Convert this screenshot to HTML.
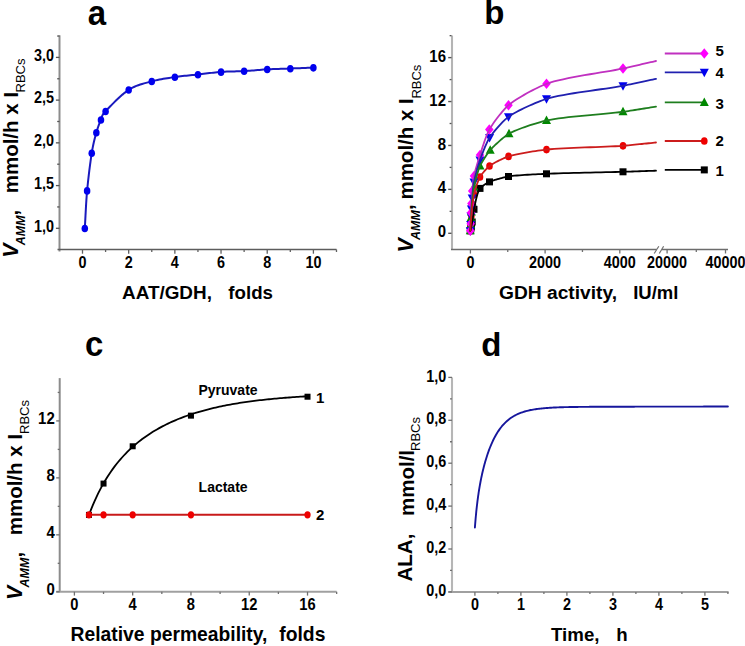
<!DOCTYPE html>
<html><head><meta charset="utf-8"><style>
html,body{margin:0;padding:0;background:#fff;width:745px;height:646px;overflow:hidden}
svg{display:block}
text{font-family:"Liberation Sans", sans-serif}
</style></head><body>
<svg width="745" height="646" viewBox="0 0 745 646">
<rect width="745" height="646" fill="#fff"/>
<line x1="59.5" y1="35.3" x2="59.5" y2="251.5" stroke="#8c8c8c" stroke-width="2.0"/>
<line x1="57.5" y1="249.5" x2="336.5" y2="249.5" stroke="#5c5c5c" stroke-width="1.5"/>
<line x1="82.5" y1="249.5" x2="82.5" y2="253.7" stroke="#606060" stroke-width="1.3"/>
<text transform="translate(82.5,268.2) scale(1,1.1)" font-size="14.4" font-weight="bold" font-style="normal" text-anchor="middle" fill="#000" >0</text>
<line x1="128.68" y1="249.5" x2="128.68" y2="253.7" stroke="#606060" stroke-width="1.3"/>
<text transform="translate(128.68,268.2) scale(1,1.1)" font-size="14.4" font-weight="bold" font-style="normal" text-anchor="middle" fill="#000" >2</text>
<line x1="174.86" y1="249.5" x2="174.86" y2="253.7" stroke="#606060" stroke-width="1.3"/>
<text transform="translate(174.86,268.2) scale(1,1.1)" font-size="14.4" font-weight="bold" font-style="normal" text-anchor="middle" fill="#000" >4</text>
<line x1="221.04" y1="249.5" x2="221.04" y2="253.7" stroke="#606060" stroke-width="1.3"/>
<text transform="translate(221.04,268.2) scale(1,1.1)" font-size="14.4" font-weight="bold" font-style="normal" text-anchor="middle" fill="#000" >6</text>
<line x1="267.22" y1="249.5" x2="267.22" y2="253.7" stroke="#606060" stroke-width="1.3"/>
<text transform="translate(267.22,268.2) scale(1,1.1)" font-size="14.4" font-weight="bold" font-style="normal" text-anchor="middle" fill="#000" >8</text>
<line x1="313.4" y1="249.5" x2="313.4" y2="253.7" stroke="#606060" stroke-width="1.3"/>
<text transform="translate(313.4,268.2) scale(1,1.1)" font-size="14.4" font-weight="bold" font-style="normal" text-anchor="middle" fill="#000" >10</text>
<line x1="105.59" y1="249.5" x2="105.59" y2="252" stroke="#606060" stroke-width="1.3"/>
<line x1="151.77" y1="249.5" x2="151.77" y2="252" stroke="#606060" stroke-width="1.3"/>
<line x1="197.95" y1="249.5" x2="197.95" y2="252" stroke="#606060" stroke-width="1.3"/>
<line x1="244.13" y1="249.5" x2="244.13" y2="252" stroke="#606060" stroke-width="1.3"/>
<line x1="290.31" y1="249.5" x2="290.31" y2="252" stroke="#606060" stroke-width="1.3"/>
<line x1="336.49" y1="249.5" x2="336.49" y2="252" stroke="#606060" stroke-width="1.3"/>
<line x1="55.9" y1="228.3" x2="59.5" y2="228.3" stroke="#555" stroke-width="1.3"/>
<text transform="translate(54,231.65) scale(1,1.1)" font-size="14.4" font-weight="bold" font-style="normal" text-anchor="end" fill="#000" >1,0</text>
<line x1="55.9" y1="185.58" x2="59.5" y2="185.58" stroke="#555" stroke-width="1.3"/>
<text transform="translate(54,188.93) scale(1,1.1)" font-size="14.4" font-weight="bold" font-style="normal" text-anchor="end" fill="#000" >1,5</text>
<line x1="55.9" y1="142.85" x2="59.5" y2="142.85" stroke="#555" stroke-width="1.3"/>
<text transform="translate(54,146.2) scale(1,1.1)" font-size="14.4" font-weight="bold" font-style="normal" text-anchor="end" fill="#000" >2,0</text>
<line x1="55.9" y1="100.12" x2="59.5" y2="100.12" stroke="#555" stroke-width="1.3"/>
<text transform="translate(54,103.47) scale(1,1.1)" font-size="14.4" font-weight="bold" font-style="normal" text-anchor="end" fill="#000" >2,5</text>
<line x1="55.9" y1="57.4" x2="59.5" y2="57.4" stroke="#555" stroke-width="1.3"/>
<text transform="translate(54,60.75) scale(1,1.1)" font-size="14.4" font-weight="bold" font-style="normal" text-anchor="end" fill="#000" >3,0</text>
<line x1="57.2" y1="206.94" x2="59.5" y2="206.94" stroke="#555" stroke-width="1.3"/>
<line x1="57.2" y1="164.21" x2="59.5" y2="164.21" stroke="#555" stroke-width="1.3"/>
<line x1="57.2" y1="121.49" x2="59.5" y2="121.49" stroke="#555" stroke-width="1.3"/>
<line x1="57.2" y1="78.76" x2="59.5" y2="78.76" stroke="#555" stroke-width="1.3"/>
<line x1="57.2" y1="36.04" x2="59.5" y2="36.04" stroke="#555" stroke-width="1.3"/>
<path d="M84.81,228.3 L84.99,225.17 L85.17,222.03 L85.33,218.9 L85.49,215.77 L85.65,212.63 L85.82,209.5 L85.99,206.37 L86.18,203.23 L86.38,200.1 L86.6,196.97 L86.84,193.84 L87.12,190.7 L87.42,187.51 L87.75,184.24 L88.11,180.9 L88.49,177.54 L88.88,174.17 L89.28,170.83 L89.69,167.56 L90.11,164.37 L90.53,161.3 L90.94,158.38 L91.34,155.64 L91.74,153.1 L92.12,150.77 L92.51,148.61 L92.89,146.6 L93.28,144.72 L93.66,142.96 L94.05,141.3 L94.43,139.73 L94.81,138.23 L95.2,136.78 L95.58,135.37 L95.97,133.98 L96.35,132.6 L96.74,131.25 L97.12,129.97 L97.51,128.75 L97.89,127.6 L98.28,126.49 L98.66,125.44 L99.05,124.43 L99.43,123.45 L99.82,122.5 L100.2,121.58 L100.59,120.67 L100.97,119.78 L101.3,118.96 L101.53,118.26 L101.69,117.64 L101.83,117.09 L101.96,116.56 L102.13,116.04 L102.36,115.49 L102.68,114.87 L103.14,114.17 L103.75,113.35 L104.56,112.38 L105.59,111.23 L106.87,109.86 L108.37,108.27 L110.06,106.49 L111.92,104.59 L113.9,102.59 L115.98,100.55 L118.12,98.51 L120.3,96.52 L122.47,94.61 L124.62,92.84 L126.7,91.24 L128.68,89.87 L130.6,88.7 L132.53,87.66 L134.45,86.73 L136.38,85.91 L138.3,85.19 L140.22,84.53 L142.15,83.93 L144.07,83.38 L146,82.86 L147.92,82.35 L149.85,81.85 L151.77,81.33 L153.69,80.81 L155.62,80.35 L157.54,79.92 L159.47,79.52 L161.39,79.16 L163.32,78.82 L165.24,78.5 L167.16,78.19 L169.09,77.9 L171.01,77.62 L172.94,77.34 L174.86,77.05 L176.78,76.78 L178.71,76.53 L180.63,76.29 L182.56,76.07 L184.48,75.86 L186.41,75.66 L188.33,75.47 L190.25,75.28 L192.18,75.09 L194.1,74.9 L196.03,74.7 L197.95,74.49 L199.87,74.27 L201.8,74.04 L203.72,73.81 L205.65,73.57 L207.57,73.34 L209.49,73.1 L211.42,72.87 L213.34,72.65 L215.27,72.45 L217.19,72.25 L219.12,72.08 L221.04,71.93 L222.96,71.8 L224.89,71.7 L226.81,71.61 L228.74,71.55 L230.66,71.49 L232.58,71.45 L234.51,71.4 L236.43,71.36 L238.36,71.31 L240.28,71.24 L242.21,71.17 L244.13,71.07 L246.05,70.96 L247.98,70.83 L249.9,70.68 L251.83,70.53 L253.75,70.38 L255.68,70.22 L257.6,70.06 L259.52,69.9 L261.45,69.75 L263.37,69.61 L265.3,69.48 L267.22,69.36 L269.14,69.26 L271.07,69.17 L272.99,69.09 L274.92,69.01 L276.84,68.95 L278.77,68.88 L280.69,68.82 L282.61,68.76 L284.54,68.7 L286.46,68.64 L288.39,68.58 L290.31,68.51 L292.23,68.44 L294.16,68.37 L296.08,68.29 L298.01,68.22 L299.93,68.15 L301.86,68.08 L303.78,68.01 L305.7,67.94 L307.63,67.87 L309.55,67.8 L311.48,67.73 L313.4,67.65" fill="none" stroke="#1a1abe" stroke-width="2" stroke-linejoin="round" stroke-linecap="round" />
<ellipse cx="84.81" cy="228.5" rx="3.27" ry="3.8" fill="#0000ee"/>
<ellipse cx="87.12" cy="190.9" rx="3.27" ry="3.8" fill="#0000ee"/>
<ellipse cx="91.74" cy="153.3" rx="3.27" ry="3.8" fill="#0000ee"/>
<ellipse cx="96.35" cy="132.8" rx="3.27" ry="3.8" fill="#0000ee"/>
<ellipse cx="100.97" cy="119.98" rx="3.27" ry="3.8" fill="#0000ee"/>
<ellipse cx="105.59" cy="111.43" rx="3.27" ry="3.8" fill="#0000ee"/>
<ellipse cx="128.68" cy="90.07" rx="3.27" ry="3.8" fill="#0000ee"/>
<ellipse cx="151.77" cy="81.53" rx="3.27" ry="3.8" fill="#0000ee"/>
<ellipse cx="174.86" cy="77.25" rx="3.27" ry="3.8" fill="#0000ee"/>
<ellipse cx="197.95" cy="74.69" rx="3.27" ry="3.8" fill="#0000ee"/>
<ellipse cx="221.04" cy="72.13" rx="3.27" ry="3.8" fill="#0000ee"/>
<ellipse cx="244.13" cy="71.27" rx="3.27" ry="3.8" fill="#0000ee"/>
<ellipse cx="267.22" cy="69.56" rx="3.27" ry="3.8" fill="#0000ee"/>
<ellipse cx="290.31" cy="68.71" rx="3.27" ry="3.8" fill="#0000ee"/>
<ellipse cx="313.4" cy="67.85" rx="3.27" ry="3.8" fill="#0000ee"/>
<text transform="translate(87.8,24.6) scale(1,1.06)" font-size="33" font-weight="bold" font-style="normal" text-anchor="start" fill="#000" >a</text>
<text x="122" y="299" font-size="18.9" font-weight="bold" font-style="normal" text-anchor="start" fill="#000" >AAT/GDH,</text>
<text x="228.3" y="299" font-size="18.7" font-weight="bold" font-style="normal" text-anchor="start" fill="#000" >folds</text>
<text transform="translate(17.6,257.8) rotate(-90)" font-size="21.5" font-weight="bold" font-style="normal" text-anchor="start" fill="#000"><tspan font-style="italic">V</tspan></text>
<text transform="translate(24.6,245.2) rotate(-90)" font-size="12.5" font-weight="bold" font-style="italic" text-anchor="start" fill="#000">AMM</text>
<text transform="translate(17.6,215.5) rotate(-90)" font-size="20.5" font-weight="bold" font-style="normal" text-anchor="start" fill="#000">,</text>
<text transform="translate(17.6,193.3) rotate(-90)" font-size="20.5" font-weight="bold" font-style="normal" text-anchor="start" fill="#000">mmol/h x I</text>
<text transform="translate(25.2,92.5) rotate(-90)" font-size="13" font-weight="normal" font-style="normal" text-anchor="start" fill="#000">RBCs</text>
<line x1="452" y1="35.5" x2="452" y2="249.5" stroke="#b4b4b4" stroke-width="2.1"/>
<line x1="451" y1="249.5" x2="656.6" y2="249.5" stroke="#6c6c6c" stroke-width="1.5"/>
<line x1="662" y1="249.5" x2="728" y2="249.5" stroke="#6c6c6c" stroke-width="1.5"/>
<line x1="654.2" y1="253.5" x2="658.8" y2="246.3" stroke="#707070" stroke-width="1.2"/>
<line x1="659.3" y1="253.5" x2="663.6" y2="246.3" stroke="#707070" stroke-width="1.2"/>
<line x1="470.4" y1="249.5" x2="470.4" y2="253.5" stroke="#707070" stroke-width="1.3"/>
<text transform="translate(470.4,268.2) scale(1,1.1)" font-size="14.4" font-weight="bold" font-style="normal" text-anchor="middle" fill="#000" >0</text>
<line x1="545.1" y1="249.5" x2="545.1" y2="253.5" stroke="#707070" stroke-width="1.3"/>
<text transform="translate(545.1,268.2) scale(1,1.1)" font-size="14.4" font-weight="bold" font-style="normal" text-anchor="middle" fill="#000" >2000</text>
<line x1="619.8" y1="249.5" x2="619.8" y2="253.5" stroke="#707070" stroke-width="1.3"/>
<text transform="translate(619.8,268.2) scale(1,1.1)" font-size="14.4" font-weight="bold" font-style="normal" text-anchor="middle" fill="#000" >4000</text>
<line x1="667.1" y1="249.5" x2="667.1" y2="253.5" stroke="#707070" stroke-width="1.3"/>
<text transform="translate(667.1,268.2) scale(1,1.1)" font-size="14.4" font-weight="bold" font-style="normal" text-anchor="middle" fill="#000" >20000</text>
<line x1="725.5" y1="249.5" x2="725.5" y2="253.5" stroke="#707070" stroke-width="1.3"/>
<text transform="translate(725.5,268.2) scale(1,1.1)" font-size="14.4" font-weight="bold" font-style="normal" text-anchor="middle" fill="#000" >40000</text>
<line x1="507.75" y1="249.5" x2="507.75" y2="252" stroke="#707070" stroke-width="1.3"/>
<line x1="582.45" y1="249.5" x2="582.45" y2="252" stroke="#707070" stroke-width="1.3"/>
<line x1="696.3" y1="249.5" x2="696.3" y2="252" stroke="#707070" stroke-width="1.3"/>
<line x1="448.2" y1="233.3" x2="451.5" y2="233.3" stroke="#555" stroke-width="1.4"/>
<text transform="translate(446,237.35) scale(1,1.1)" font-size="15.0" font-weight="bold" font-style="normal" text-anchor="end" fill="#000" >0</text>
<line x1="448.2" y1="189.38" x2="451.5" y2="189.38" stroke="#555" stroke-width="1.4"/>
<text transform="translate(446,193.43) scale(1,1.1)" font-size="15.0" font-weight="bold" font-style="normal" text-anchor="end" fill="#000" >4</text>
<line x1="448.2" y1="145.46" x2="451.5" y2="145.46" stroke="#555" stroke-width="1.4"/>
<text transform="translate(446,149.51) scale(1,1.1)" font-size="15.0" font-weight="bold" font-style="normal" text-anchor="end" fill="#000" >8</text>
<line x1="448.2" y1="101.54" x2="451.5" y2="101.54" stroke="#555" stroke-width="1.4"/>
<text transform="translate(446,105.59) scale(1,1.1)" font-size="15.0" font-weight="bold" font-style="normal" text-anchor="end" fill="#000" >12</text>
<line x1="448.2" y1="57.62" x2="451.5" y2="57.62" stroke="#555" stroke-width="1.4"/>
<text transform="translate(446,61.67) scale(1,1.1)" font-size="15.0" font-weight="bold" font-style="normal" text-anchor="end" fill="#000" >16</text>
<line x1="449.6" y1="211.34" x2="451.5" y2="211.34" stroke="#555" stroke-width="1.3"/>
<line x1="449.6" y1="167.42" x2="451.5" y2="167.42" stroke="#555" stroke-width="1.3"/>
<line x1="449.6" y1="123.5" x2="451.5" y2="123.5" stroke="#555" stroke-width="1.3"/>
<line x1="449.6" y1="79.58" x2="451.5" y2="79.58" stroke="#555" stroke-width="1.3"/>
<line x1="449.6" y1="35.66" x2="451.5" y2="35.66" stroke="#555" stroke-width="1.3"/>
<rect x="466.8" y="227.3" width="7" height="7" fill="#000000"/>
<rect x="467.2" y="225.8" width="7" height="7" fill="#000000"/>
<rect x="467.5" y="224.3" width="7" height="7" fill="#000000"/>
<rect x="467.9" y="222.7" width="7" height="7" fill="#000000"/>
<rect x="468.7" y="218.5" width="7" height="7" fill="#000000"/>
<rect x="470.5" y="205.8" width="7" height="7" fill="#000000"/>
<rect x="476.5" y="184.9" width="7" height="7" fill="#000000"/>
<rect x="486" y="178.4" width="7" height="7" fill="#000000"/>
<rect x="505" y="173" width="7" height="7" fill="#000000"/>
<rect x="543" y="170.3" width="7" height="7" fill="#000000"/>
<rect x="619.5" y="168.3" width="7" height="7" fill="#000000"/>
<ellipse cx="470.3" cy="230.8" rx="3.31" ry="3.85" fill="#ee0000"/>
<ellipse cx="470.7" cy="226" rx="3.31" ry="3.85" fill="#ee0000"/>
<ellipse cx="471" cy="221" rx="3.31" ry="3.85" fill="#ee0000"/>
<ellipse cx="471.4" cy="216" rx="3.31" ry="3.85" fill="#ee0000"/>
<ellipse cx="472.2" cy="207" rx="3.31" ry="3.85" fill="#ee0000"/>
<ellipse cx="474" cy="194.5" rx="3.31" ry="3.85" fill="#ee0000"/>
<ellipse cx="480" cy="177" rx="3.31" ry="3.85" fill="#ee0000"/>
<ellipse cx="489.5" cy="166" rx="3.31" ry="3.85" fill="#ee0000"/>
<ellipse cx="508.5" cy="156.4" rx="3.31" ry="3.85" fill="#ee0000"/>
<ellipse cx="546.5" cy="149.6" rx="3.31" ry="3.85" fill="#ee0000"/>
<ellipse cx="623" cy="145.8" rx="3.31" ry="3.85" fill="#ee0000"/>
<path d="M470.3,225.87 L474.8,234.37 L465.8,234.37Z" fill="#008800"/>
<path d="M470.7,220.07 L475.2,228.57 L466.2,228.57Z" fill="#008800"/>
<path d="M471,213.07 L475.5,221.57 L466.5,221.57Z" fill="#008800"/>
<path d="M471.4,207.07 L475.9,215.57 L466.9,215.57Z" fill="#008800"/>
<path d="M472.2,197.07 L476.7,205.57 L467.7,205.57Z" fill="#008800"/>
<path d="M474,182.07 L478.5,190.57 L469.5,190.57Z" fill="#008800"/>
<path d="M480,161.07 L484.5,169.57 L475.5,169.57Z" fill="#008800"/>
<path d="M490.2,145.17 L494.7,153.67 L485.7,153.67Z" fill="#008800"/>
<path d="M509,128.77 L513.5,137.27 L504.5,137.27Z" fill="#008800"/>
<path d="M546.5,115.57 L551,124.07 L542,124.07Z" fill="#008800"/>
<path d="M623,106.87 L627.5,115.37 L618.5,115.37Z" fill="#008800"/>
<path d="M470.3,235.73 L474.8,227.23 L465.8,227.23Z" fill="#0000ee"/>
<path d="M470.7,229.43 L475.2,220.93 L466.2,220.93Z" fill="#0000ee"/>
<path d="M471,220.93 L475.5,212.43 L466.5,212.43Z" fill="#0000ee"/>
<path d="M471.4,213.93 L475.9,205.43 L466.9,205.43Z" fill="#0000ee"/>
<path d="M472.2,202.93 L476.7,194.43 L467.7,194.43Z" fill="#0000ee"/>
<path d="M474,186.93 L478.5,178.43 L469.5,178.43Z" fill="#0000ee"/>
<path d="M480,164.93 L484.5,156.43 L475.5,156.43Z" fill="#0000ee"/>
<path d="M489.6,142.53 L494.1,134.03 L485.1,134.03Z" fill="#0000ee"/>
<path d="M508.5,121.73 L513,113.23 L504,113.23Z" fill="#0000ee"/>
<path d="M546.5,103.83 L551,95.33 L542,95.33Z" fill="#0000ee"/>
<path d="M623,90.73 L627.5,82.23 L618.5,82.23Z" fill="#0000ee"/>
<path d="M470.3,225.55 L474.55,230.8 L470.3,236.05 L466.05,230.8Z" fill="#ff00ff"/>
<path d="M470.7,218.55 L474.95,223.8 L470.7,229.05 L466.45,223.8Z" fill="#ff00ff"/>
<path d="M471,207.45 L475.25,212.7 L471,217.95 L466.75,212.7Z" fill="#ff00ff"/>
<path d="M471.4,198.35 L475.65,203.6 L471.4,208.85 L467.15,203.6Z" fill="#ff00ff"/>
<path d="M472.2,185.75 L476.45,191 L472.2,196.25 L467.95,191Z" fill="#ff00ff"/>
<path d="M474,170.65 L478.25,175.9 L474,181.15 L469.75,175.9Z" fill="#ff00ff"/>
<path d="M480,149.75 L484.25,155 L480,160.25 L475.75,155Z" fill="#ff00ff"/>
<path d="M489.3,124.35 L493.55,129.6 L489.3,134.85 L485.05,129.6Z" fill="#ff00ff"/>
<path d="M508.5,99.95 L512.75,105.2 L508.5,110.45 L504.25,105.2Z" fill="#ff00ff"/>
<path d="M546.5,78.55 L550.75,83.8 L546.5,89.05 L542.25,83.8Z" fill="#ff00ff"/>
<path d="M623,63.25 L627.25,68.5 L623,73.75 L618.75,68.5Z" fill="#ff00ff"/>
<path d="M470.3,230.8 L470.32,230.47 L470.34,230.1 L470.37,229.69 L470.39,229.25 L470.42,228.78 L470.45,228.3 L470.48,227.8 L470.51,227.3 L470.54,226.8 L470.57,226.3 L470.6,225.82 L470.62,225.35 L470.65,224.91 L470.67,224.5 L470.69,224.13 L470.7,223.8 L470.72,223.28 L470.74,222.69 L470.76,222.04 L470.78,221.34 L470.8,220.6 L470.82,219.83 L470.84,219.05 L470.86,218.25 L470.87,217.45 L470.89,216.67 L470.91,215.9 L470.93,215.16 L470.95,214.46 L470.97,213.81 L470.98,213.22 L471,212.7 L471.02,212.27 L471.03,211.79 L471.06,211.25 L471.08,210.68 L471.1,210.08 L471.13,209.45 L471.16,208.8 L471.19,208.15 L471.21,207.5 L471.24,206.85 L471.27,206.22 L471.3,205.62 L471.33,205.05 L471.35,204.51 L471.38,204.03 L471.4,203.6 L471.43,203.01 L471.47,202.33 L471.51,201.6 L471.55,200.8 L471.6,199.97 L471.65,199.09 L471.7,198.2 L471.76,197.3 L471.81,196.39 L471.87,195.5 L471.93,194.63 L471.98,193.79 L472.04,193 L472.1,192.26 L472.15,191.59 L472.2,191 L472.27,190.29 L472.34,189.48 L472.43,188.59 L472.52,187.64 L472.62,186.63 L472.73,185.59 L472.84,184.51 L472.96,183.43 L473.08,182.34 L473.21,181.27 L473.34,180.23 L473.47,179.23 L473.6,178.28 L473.73,177.4 L473.87,176.6 L474,175.9 L474.22,174.9 L474.48,173.77 L474.79,172.54 L475.14,171.21 L475.52,169.82 L475.92,168.37 L476.35,166.89 L476.79,165.39 L477.23,163.9 L477.67,162.42 L478.11,160.98 L478.54,159.6 L478.95,158.29 L479.33,157.08 L479.68,155.97 L480,155 L480.39,153.79 L480.84,152.41 L481.32,150.9 L481.85,149.27 L482.4,147.56 L482.99,145.78 L483.6,143.96 L484.23,142.12 L484.87,140.28 L485.52,138.48 L486.17,136.72 L486.82,135.05 L487.47,133.48 L488.1,132.03 L488.71,130.73 L489.3,129.6 L490.04,128.34 L490.91,126.93 L491.91,125.4 L493.02,123.78 L494.21,122.09 L495.48,120.34 L496.8,118.57 L498.16,116.8 L499.55,115.04 L500.94,113.32 L502.32,111.67 L503.68,110.11 L504.99,108.66 L506.24,107.34 L507.42,106.18 L508.5,105.2 L510.1,103.91 L511.96,102.52 L514.06,101.07 L516.36,99.56 L518.82,98.02 L521.4,96.45 L524.08,94.89 L526.82,93.34 L529.58,91.83 L532.32,90.38 L535.02,89 L537.62,87.71 L540.11,86.52 L542.44,85.46 L544.59,84.55 L546.5,83.8 L549.98,82.63 L553.96,81.48 L558.37,80.36 L563.15,79.27 L568.22,78.21 L573.51,77.18 L578.95,76.18 L584.47,75.2 L590,74.26 L595.47,73.34 L600.81,72.46 L605.94,71.6 L610.79,70.78 L615.3,69.99 L619.39,69.23 L623,68.5 L624.56,68.16 L626.32,67.78 L628.25,67.35 L630.33,66.88 L632.52,66.38 L634.8,65.86 L637.14,65.33 L639.51,64.79 L641.87,64.24 L644.21,63.71 L646.49,63.18 L648.68,62.68 L650.76,62.2 L652.69,61.76 L654.45,61.35 L656,61" fill="none" stroke="#c030c0" stroke-width="1.8" stroke-linejoin="round" stroke-linecap="round" />
<line x1="664.8" y1="53.5" x2="704" y2="53.5" stroke="#c030c0" stroke-width="1.9"/>
<path d="M704.3,48.25 L708.55,53.5 L704.3,58.75 L700.05,53.5Z" fill="#ff00ff"/>
<path d="M470.3,230.8 L470.32,230.5 L470.34,230.17 L470.37,229.8 L470.39,229.4 L470.42,228.98 L470.45,228.55 L470.48,228.1 L470.51,227.65 L470.54,227.2 L470.57,226.75 L470.59,226.32 L470.62,225.9 L470.64,225.5 L470.67,225.13 L470.68,224.8 L470.7,224.5 L470.72,224.1 L470.74,223.65 L470.76,223.15 L470.78,222.61 L470.79,222.05 L470.81,221.46 L470.83,220.86 L470.85,220.25 L470.87,219.64 L470.89,219.04 L470.91,218.45 L470.93,217.89 L470.95,217.35 L470.96,216.85 L470.98,216.4 L471,216 L471.02,215.67 L471.03,215.3 L471.06,214.89 L471.08,214.45 L471.1,213.98 L471.13,213.5 L471.16,213 L471.19,212.5 L471.22,212 L471.25,211.5 L471.28,211.02 L471.3,210.55 L471.33,210.11 L471.36,209.7 L471.38,209.33 L471.4,209 L471.43,208.48 L471.47,207.9 L471.52,207.25 L471.56,206.56 L471.61,205.83 L471.66,205.07 L471.72,204.29 L471.77,203.5 L471.83,202.71 L471.89,201.93 L471.94,201.17 L472,200.44 L472.05,199.75 L472.1,199.1 L472.15,198.52 L472.2,198 L472.27,197.24 L472.35,196.39 L472.43,195.45 L472.53,194.44 L472.63,193.37 L472.74,192.27 L472.85,191.13 L472.96,189.98 L473.09,188.83 L473.21,187.7 L473.34,186.59 L473.47,185.53 L473.6,184.53 L473.73,183.59 L473.87,182.75 L474,182 L474.21,180.95 L474.47,179.76 L474.78,178.46 L475.11,177.06 L475.48,175.59 L475.88,174.07 L476.29,172.5 L476.72,170.92 L477.16,169.35 L477.6,167.79 L478.03,166.28 L478.46,164.82 L478.88,163.45 L479.28,162.17 L479.65,161.02 L480,160 L480.38,158.92 L480.82,157.69 L481.32,156.35 L481.86,154.91 L482.44,153.39 L483.05,151.81 L483.69,150.2 L484.35,148.58 L485.02,146.96 L485.71,145.37 L486.39,143.83 L487.07,142.36 L487.73,140.98 L488.38,139.72 L489.01,138.58 L489.6,137.6 L490.34,136.5 L491.21,135.28 L492.21,133.97 L493.31,132.57 L494.49,131.12 L495.75,129.62 L497.06,128.11 L498.4,126.59 L499.77,125.1 L501.14,123.64 L502.49,122.24 L503.82,120.92 L505.1,119.69 L506.32,118.59 L507.46,117.62 L508.5,116.8 L510.12,115.67 L512.01,114.48 L514.13,113.24 L516.45,111.96 L518.92,110.66 L521.52,109.35 L524.21,108.05 L526.95,106.77 L529.71,105.52 L532.45,104.32 L535.13,103.18 L537.73,102.12 L540.2,101.15 L542.51,100.27 L544.62,99.52 L546.5,98.9 L550.01,97.89 L554.02,96.92 L558.45,95.96 L563.24,95.04 L568.32,94.14 L573.61,93.26 L579.04,92.41 L584.56,91.59 L590.08,90.79 L595.53,90.01 L600.86,89.25 L605.97,88.52 L610.82,87.81 L615.31,87.12 L619.4,86.45 L623,85.8 L624.56,85.5 L626.32,85.14 L628.26,84.74 L630.33,84.31 L632.53,83.85 L634.81,83.36 L637.15,82.87 L639.51,82.36 L641.88,81.85 L644.21,81.34 L646.49,80.85 L648.68,80.37 L650.76,79.93 L652.69,79.51 L654.45,79.13 L656,78.8" fill="none" stroke="#2020b0" stroke-width="1.8" stroke-linejoin="round" stroke-linecap="round" />
<line x1="664.8" y1="72.4" x2="704" y2="72.4" stroke="#2020b0" stroke-width="1.9"/>
<path d="M704.3,77.33 L708.8,68.83 L699.8,68.83Z" fill="#0000ee"/>
<path d="M470.3,230.8 L470.32,230.53 L470.34,230.22 L470.37,229.88 L470.39,229.51 L470.42,229.13 L470.45,228.73 L470.48,228.32 L470.51,227.9 L470.54,227.48 L470.56,227.07 L470.59,226.67 L470.62,226.29 L470.64,225.92 L470.66,225.58 L470.68,225.27 L470.7,225 L470.72,224.67 L470.74,224.3 L470.75,223.89 L470.77,223.45 L470.79,222.98 L470.81,222.5 L470.83,222 L470.85,221.5 L470.87,221 L470.89,220.5 L470.91,220.02 L470.93,219.55 L470.95,219.11 L470.97,218.7 L470.98,218.33 L471,218 L471.02,217.72 L471.04,217.4 L471.06,217.05 L471.08,216.67 L471.11,216.27 L471.13,215.85 L471.16,215.43 L471.19,215 L471.22,214.57 L471.25,214.14 L471.28,213.73 L471.3,213.33 L471.33,212.95 L471.36,212.6 L471.38,212.28 L471.4,212 L471.43,211.53 L471.47,211 L471.52,210.41 L471.56,209.78 L471.61,209.12 L471.67,208.42 L471.72,207.72 L471.78,207 L471.83,206.28 L471.89,205.57 L471.95,204.88 L472,204.22 L472.05,203.59 L472.11,203 L472.15,202.47 L472.2,202 L472.27,201.29 L472.35,200.49 L472.44,199.61 L472.53,198.66 L472.63,197.66 L472.74,196.62 L472.85,195.56 L472.97,194.48 L473.09,193.4 L473.22,192.34 L473.34,191.3 L473.47,190.31 L473.61,189.37 L473.74,188.49 L473.87,187.7 L474,187 L474.21,185.99 L474.46,184.85 L474.75,183.6 L475.07,182.26 L475.42,180.85 L475.79,179.38 L476.18,177.88 L476.59,176.37 L477.01,174.86 L477.44,173.37 L477.88,171.92 L478.32,170.54 L478.75,169.23 L479.18,168.03 L479.6,166.95 L480,166 L480.38,165.2 L480.84,164.3 L481.37,163.33 L481.95,162.29 L482.59,161.2 L483.27,160.08 L483.97,158.94 L484.7,157.8 L485.44,156.66 L486.19,155.54 L486.92,154.46 L487.65,153.43 L488.34,152.46 L489.01,151.58 L489.63,150.78 L490.2,150.1 L490.98,149.22 L491.89,148.25 L492.92,147.2 L494.03,146.09 L495.23,144.93 L496.49,143.75 L497.8,142.55 L499.14,141.35 L500.49,140.16 L501.84,139.02 L503.18,137.92 L504.48,136.88 L505.72,135.92 L506.9,135.07 L508,134.32 L509,133.7 L510.64,132.8 L512.54,131.88 L514.66,130.92 L516.97,129.96 L519.43,128.99 L522,128.02 L524.66,127.06 L527.36,126.13 L530.08,125.22 L532.77,124.36 L535.41,123.54 L537.95,122.78 L540.37,122.09 L542.62,121.47 L544.68,120.94 L546.5,120.5 L550.05,119.77 L554.08,119.07 L558.54,118.41 L563.34,117.78 L568.42,117.19 L573.71,116.62 L579.14,116.07 L584.64,115.55 L590.15,115.04 L595.59,114.55 L600.9,114.08 L606,113.61 L610.83,113.15 L615.32,112.7 L619.4,112.25 L623,111.8 L624.56,111.58 L626.32,111.33 L628.25,111.04 L630.33,110.72 L632.53,110.37 L634.81,110.01 L637.14,109.64 L639.51,109.26 L641.87,108.88 L644.21,108.5 L646.49,108.13 L648.68,107.78 L650.76,107.44 L652.69,107.13 L654.45,106.85 L656,106.6" fill="none" stroke="#1e7e1e" stroke-width="1.8" stroke-linejoin="round" stroke-linecap="round" />
<line x1="664.8" y1="102.4" x2="704" y2="102.4" stroke="#1e7e1e" stroke-width="1.9"/>
<path d="M704.3,97.47 L708.8,105.97 L699.8,105.97Z" fill="#008800"/>
<path d="M470.3,230.8 L470.32,230.73 L470.34,230.65 L470.36,230.56 L470.39,230.47 L470.42,230.37 L470.45,230.26 L470.47,230.16 L470.5,230.05 L470.53,229.94 L470.56,229.84 L470.59,229.73 L470.62,229.63 L470.64,229.54 L470.66,229.45 L470.68,229.37 L470.7,229.3 L470.72,229.23 L470.73,229.15 L470.75,229.06 L470.77,228.97 L470.79,228.87 L470.81,228.76 L470.83,228.66 L470.85,228.55 L470.87,228.44 L470.89,228.34 L470.91,228.23 L470.93,228.13 L470.95,228.04 L470.97,227.95 L470.98,227.87 L471,227.8 L471.02,227.72 L471.04,227.64 L471.06,227.55 L471.09,227.44 L471.11,227.34 L471.14,227.23 L471.17,227.11 L471.2,227 L471.23,226.89 L471.26,226.77 L471.29,226.66 L471.31,226.56 L471.34,226.46 L471.36,226.36 L471.38,226.28 L471.4,226.2 L471.44,226 L471.49,225.78 L471.54,225.53 L471.59,225.27 L471.65,224.99 L471.7,224.7 L471.76,224.4 L471.82,224.1 L471.88,223.8 L471.93,223.5 L471.99,223.21 L472.04,222.93 L472.08,222.67 L472.13,222.42 L472.17,222.2 L472.2,222 L472.29,221.4 L472.39,220.73 L472.49,219.98 L472.6,219.18 L472.71,218.34 L472.82,217.46 L472.93,216.55 L473.05,215.64 L473.17,214.73 L473.29,213.83 L473.4,212.95 L473.52,212.1 L473.64,211.31 L473.76,210.56 L473.88,209.89 L474,209.3 L474.21,208.29 L474.44,207.15 L474.69,205.88 L474.97,204.52 L475.26,203.08 L475.58,201.59 L475.92,200.07 L476.28,198.53 L476.67,197.01 L477.08,195.51 L477.51,194.07 L477.96,192.7 L478.43,191.43 L478.93,190.28 L479.45,189.26 L480,188.4 L480.34,187.98 L480.76,187.54 L481.25,187.09 L481.81,186.63 L482.41,186.16 L483.06,185.69 L483.73,185.22 L484.43,184.76 L485.13,184.31 L485.84,183.88 L486.54,183.47 L487.21,183.09 L487.85,182.74 L488.46,182.42 L489.01,182.14 L489.5,181.9 L490.35,181.53 L491.33,181.14 L492.41,180.74 L493.59,180.34 L494.84,179.94 L496.15,179.54 L497.49,179.15 L498.86,178.77 L500.23,178.4 L501.59,178.04 L502.92,177.71 L504.2,177.41 L505.42,177.13 L506.55,176.88 L507.58,176.67 L508.5,176.5 L510.27,176.22 L512.28,175.96 L514.5,175.72 L516.88,175.49 L519.4,175.28 L522.03,175.08 L524.72,174.9 L527.45,174.73 L530.18,174.58 L532.88,174.44 L535.52,174.31 L538.05,174.19 L540.45,174.08 L542.68,173.98 L544.71,173.88 L546.5,173.8 L550.1,173.64 L554.18,173.49 L558.65,173.34 L563.47,173.2 L568.55,173.06 L573.84,172.93 L579.26,172.8 L584.75,172.67 L590.23,172.55 L595.65,172.44 L600.94,172.32 L606.03,172.21 L610.84,172.11 L615.32,172 L619.4,171.9 L623,171.8 L624.56,171.75 L626.31,171.7 L628.25,171.64 L630.32,171.57 L632.52,171.5 L634.8,171.42 L637.13,171.34 L639.5,171.26 L641.87,171.18 L644.21,171.1 L646.49,171.02 L648.68,170.95 L650.76,170.88 L652.69,170.81 L654.45,170.75 L656,170.7" fill="none" stroke="#000000" stroke-width="1.8" stroke-linejoin="round" stroke-linecap="round" />
<line x1="664.8" y1="169.9" x2="704" y2="169.9" stroke="#000000" stroke-width="1.9"/>
<rect x="700.8" y="166.4" width="7" height="7" fill="#000000"/>
<path d="M470.3,230.8 L470.32,230.57 L470.34,230.32 L470.36,230.04 L470.39,229.74 L470.42,229.42 L470.45,229.08 L470.48,228.74 L470.5,228.4 L470.53,228.06 L470.56,227.72 L470.59,227.38 L470.62,227.07 L470.64,226.76 L470.66,226.48 L470.68,226.23 L470.7,226 L470.72,225.76 L470.73,225.5 L470.75,225.21 L470.77,224.89 L470.79,224.56 L470.81,224.21 L470.83,223.86 L470.85,223.5 L470.87,223.14 L470.89,222.79 L470.91,222.44 L470.93,222.11 L470.95,221.79 L470.97,221.5 L470.98,221.24 L471,221 L471.02,220.76 L471.04,220.5 L471.06,220.2 L471.08,219.89 L471.11,219.56 L471.14,219.21 L471.16,218.86 L471.19,218.5 L471.22,218.14 L471.25,217.79 L471.28,217.44 L471.31,217.11 L471.33,216.79 L471.36,216.5 L471.38,216.24 L471.4,216 L471.44,215.58 L471.48,215.1 L471.52,214.57 L471.57,214 L471.62,213.4 L471.67,212.78 L471.72,212.14 L471.78,211.5 L471.83,210.85 L471.89,210.21 L471.94,209.59 L472,208.99 L472.05,208.43 L472.1,207.9 L472.15,207.42 L472.2,207 L472.27,206.41 L472.35,205.74 L472.43,205.01 L472.53,204.21 L472.63,203.38 L472.74,202.51 L472.85,201.63 L472.97,200.73 L473.09,199.83 L473.22,198.94 L473.34,198.08 L473.48,197.25 L473.61,196.47 L473.74,195.74 L473.87,195.08 L474,194.5 L474.21,193.65 L474.46,192.7 L474.75,191.65 L475.06,190.52 L475.41,189.34 L475.78,188.11 L476.17,186.85 L476.57,185.58 L476.99,184.32 L477.42,183.08 L477.86,181.87 L478.3,180.72 L478.73,179.65 L479.17,178.65 L479.59,177.77 L480,177 L480.36,176.41 L480.78,175.77 L481.27,175.07 L481.82,174.33 L482.41,173.57 L483.04,172.78 L483.7,171.98 L484.38,171.18 L485.07,170.39 L485.77,169.62 L486.45,168.88 L487.13,168.19 L487.78,167.54 L488.39,166.95 L488.97,166.44 L489.5,166 L490.31,165.41 L491.25,164.77 L492.3,164.11 L493.46,163.43 L494.69,162.74 L495.99,162.03 L497.33,161.33 L498.7,160.64 L500.08,159.97 L501.45,159.32 L502.79,158.71 L504.09,158.13 L505.33,157.61 L506.49,157.14 L507.55,156.73 L508.5,156.4 L510.24,155.86 L512.22,155.33 L514.41,154.8 L516.78,154.28 L519.3,153.76 L521.92,153.26 L524.61,152.78 L527.35,152.31 L530.09,151.87 L532.8,151.45 L535.44,151.05 L537.99,150.69 L540.4,150.36 L542.65,150.07 L544.69,149.81 L546.5,149.6 L550.09,149.24 L554.15,148.91 L558.63,148.61 L563.44,148.34 L568.52,148.09 L573.81,147.86 L579.23,147.65 L584.73,147.44 L590.22,147.25 L595.64,147.06 L600.94,146.86 L606.03,146.67 L610.84,146.47 L615.32,146.26 L619.4,146.04 L623,145.8 L624.56,145.68 L626.32,145.52 L628.25,145.35 L630.33,145.15 L632.52,144.93 L634.8,144.71 L637.14,144.47 L639.51,144.22 L641.87,143.98 L644.21,143.73 L646.49,143.49 L648.68,143.26 L650.76,143.04 L652.69,142.84 L654.45,142.66 L656,142.5" fill="none" stroke="#cc1c1c" stroke-width="1.8" stroke-linejoin="round" stroke-linecap="round" />
<line x1="664.8" y1="141" x2="704" y2="141" stroke="#cc1c1c" stroke-width="1.9"/>
<ellipse cx="704.3" cy="141" rx="3.31" ry="3.85" fill="#ee0000"/>
<text x="715.6" y="56.3" font-size="15" font-weight="bold" font-style="normal" text-anchor="start" fill="#000" >5</text>
<text x="715.6" y="78.3" font-size="15" font-weight="bold" font-style="normal" text-anchor="start" fill="#000" >4</text>
<text x="715.6" y="108.8" font-size="15" font-weight="bold" font-style="normal" text-anchor="start" fill="#000" >3</text>
<text x="715.6" y="145.8" font-size="15" font-weight="bold" font-style="normal" text-anchor="start" fill="#000" >2</text>
<text x="715.6" y="176.1" font-size="15" font-weight="bold" font-style="normal" text-anchor="start" fill="#000" >1</text>
<text x="484.3" y="24.2" font-size="33" font-weight="bold" font-style="normal" text-anchor="start" fill="#000" >b</text>
<text x="499" y="298.8" font-size="19.2" font-weight="bold" font-style="normal" text-anchor="start" fill="#000" >GDH activity,</text>
<text x="633.2" y="298.8" font-size="18.5" font-weight="bold" font-style="normal" text-anchor="start" fill="#000" >IU/ml</text>
<text transform="translate(412.8,252.5) rotate(-90)" font-size="21.5" font-weight="bold" font-style="normal" text-anchor="start" fill="#000"><tspan font-style="italic">V</tspan></text>
<text transform="translate(420,240) rotate(-90)" font-size="12.5" font-weight="bold" font-style="italic" text-anchor="start" fill="#000">AMM</text>
<text transform="translate(412.8,210) rotate(-90)" font-size="20.5" font-weight="bold" font-style="normal" text-anchor="start" fill="#000">,</text>
<text transform="translate(413.2,199.6) rotate(-90)" font-size="20.5" font-weight="bold" font-style="normal" text-anchor="start" fill="#000">mmol/h x I</text>
<text transform="translate(420.8,98.6) rotate(-90)" font-size="13" font-weight="normal" font-style="normal" text-anchor="start" fill="#000">RBCs</text>
<line x1="59.7" y1="378.1" x2="59.7" y2="591.8" stroke="#8c8c8c" stroke-width="2.0"/>
<line x1="56.3" y1="591.8" x2="336.6" y2="591.8" stroke="#a0a0a0" stroke-width="2.0"/>
<line x1="74.4" y1="591.8" x2="74.4" y2="595.6" stroke="#707070" stroke-width="1.3"/>
<text transform="translate(74.4,609.9) scale(1,1.1)" font-size="14.700000000000001" font-weight="bold" font-style="normal" text-anchor="middle" fill="#000" >0</text>
<line x1="132.68" y1="591.8" x2="132.68" y2="595.6" stroke="#707070" stroke-width="1.3"/>
<text transform="translate(132.68,609.9) scale(1,1.1)" font-size="14.700000000000001" font-weight="bold" font-style="normal" text-anchor="middle" fill="#000" >4</text>
<line x1="190.96" y1="591.8" x2="190.96" y2="595.6" stroke="#707070" stroke-width="1.3"/>
<text transform="translate(190.96,609.9) scale(1,1.1)" font-size="14.700000000000001" font-weight="bold" font-style="normal" text-anchor="middle" fill="#000" >8</text>
<line x1="249.24" y1="591.8" x2="249.24" y2="595.6" stroke="#707070" stroke-width="1.3"/>
<text transform="translate(249.24,609.9) scale(1,1.1)" font-size="14.700000000000001" font-weight="bold" font-style="normal" text-anchor="middle" fill="#000" >12</text>
<line x1="307.52" y1="591.8" x2="307.52" y2="595.6" stroke="#707070" stroke-width="1.3"/>
<text transform="translate(307.52,609.9) scale(1,1.1)" font-size="14.700000000000001" font-weight="bold" font-style="normal" text-anchor="middle" fill="#000" >16</text>
<line x1="103.54" y1="591.8" x2="103.54" y2="594" stroke="#707070" stroke-width="1.3"/>
<line x1="161.82" y1="591.8" x2="161.82" y2="594" stroke="#707070" stroke-width="1.3"/>
<line x1="220.1" y1="591.8" x2="220.1" y2="594" stroke="#707070" stroke-width="1.3"/>
<line x1="278.38" y1="591.8" x2="278.38" y2="594" stroke="#707070" stroke-width="1.3"/>
<line x1="336.66" y1="591.8" x2="336.66" y2="594" stroke="#707070" stroke-width="1.3"/>
<line x1="56.2" y1="591.8" x2="59.7" y2="591.8" stroke="#707070" stroke-width="1.3"/>
<text transform="translate(54.8,594.85) scale(1,1.1)" font-size="15.0" font-weight="bold" font-style="normal" text-anchor="end" fill="#000" >0</text>
<line x1="56.2" y1="534.84" x2="59.7" y2="534.84" stroke="#707070" stroke-width="1.3"/>
<text transform="translate(54.8,537.89) scale(1,1.1)" font-size="15.0" font-weight="bold" font-style="normal" text-anchor="end" fill="#000" >4</text>
<line x1="56.2" y1="477.88" x2="59.7" y2="477.88" stroke="#707070" stroke-width="1.3"/>
<text transform="translate(54.8,480.93) scale(1,1.1)" font-size="15.0" font-weight="bold" font-style="normal" text-anchor="end" fill="#000" >8</text>
<line x1="56.2" y1="420.92" x2="59.7" y2="420.92" stroke="#707070" stroke-width="1.3"/>
<text transform="translate(54.8,423.97) scale(1,1.1)" font-size="15.0" font-weight="bold" font-style="normal" text-anchor="end" fill="#000" >12</text>
<line x1="57.7" y1="563.32" x2="59.7" y2="563.32" stroke="#707070" stroke-width="1.3"/>
<line x1="57.7" y1="506.36" x2="59.7" y2="506.36" stroke="#707070" stroke-width="1.3"/>
<line x1="57.7" y1="449.4" x2="59.7" y2="449.4" stroke="#707070" stroke-width="1.3"/>
<line x1="57.7" y1="392.44" x2="59.7" y2="392.44" stroke="#707070" stroke-width="1.3"/>
<path d="M88.97,514.98 L90.81,510.16 L92.64,505.62 L94.48,501.33 L96.32,497.28 L98.15,493.44 L99.99,489.81 L101.83,486.36 L103.66,483.08 L105.5,479.96 L107.34,476.99 L109.17,474.16 L111.01,471.46 L112.85,468.88 L114.68,466.4 L116.52,464.04 L118.35,461.77 L120.19,459.6 L122.03,457.51 L123.86,455.5 L125.7,453.57 L127.54,451.72 L129.37,449.93 L131.21,448.21 L133.05,446.55 L134.88,444.95 L136.72,443.4 L138.56,441.91 L140.39,440.47 L142.23,439.07 L144.07,437.73 L145.9,436.42 L147.74,435.16 L149.58,433.94 L151.41,432.76 L153.25,431.61 L155.09,430.5 L156.92,429.43 L158.76,428.38 L160.6,427.37 L162.43,426.39 L164.27,425.44 L166.11,424.52 L167.94,423.62 L169.78,422.75 L171.61,421.91 L173.45,421.09 L175.29,420.3 L177.12,419.53 L178.96,418.78 L180.8,418.05 L182.63,417.34 L184.47,416.65 L186.31,415.98 L188.14,415.34 L189.98,414.71 L191.82,414.09 L193.65,413.5 L195.49,412.92 L197.33,412.36 L199.16,411.81 L201,411.28 L202.84,410.76 L204.67,410.26 L206.51,409.77 L208.35,409.3 L210.18,408.84 L212.02,408.39 L213.86,407.96 L215.69,407.53 L217.53,407.12 L219.37,406.72 L221.2,406.33 L223.04,405.95 L224.88,405.58 L226.71,405.23 L228.55,404.88 L230.38,404.54 L232.22,404.21 L234.06,403.89 L235.89,403.58 L237.73,403.28 L239.57,402.98 L241.4,402.7 L243.24,402.42 L245.08,402.15 L246.91,401.88 L248.75,401.63 L250.59,401.38 L252.42,401.14 L254.26,400.9 L256.1,400.67 L257.93,400.45 L259.77,400.23 L261.61,400.02 L263.44,399.82 L265.28,399.62 L267.12,399.43 L268.95,399.24 L270.79,399.05 L272.63,398.88 L274.46,398.7 L276.3,398.53 L278.14,398.37 L279.97,398.21 L281.81,398.06 L283.64,397.91 L285.48,397.76 L287.32,397.62 L289.15,397.48 L290.99,397.34 L292.83,397.21 L294.66,397.08 L296.5,396.96 L298.34,396.84 L300.17,396.72 L302.01,396.61 L303.85,396.5 L305.68,396.39 L307.52,396.28" fill="none" stroke="#000" stroke-width="1.8" stroke-linejoin="round" stroke-linecap="round" />
<line x1="88.97" y1="514.8" x2="307.52" y2="514.8" stroke="#c81a1a" stroke-width="1.9"/>
<rect x="85.97" y="511.9" width="6.0" height="6.0" fill="#000"/>
<rect x="100.54" y="480.58" width="6.0" height="6.0" fill="#000"/>
<rect x="129.68" y="443.27" width="6.0" height="6.0" fill="#000"/>
<rect x="187.96" y="412.65" width="6.0" height="6.0" fill="#000"/>
<rect x="304.52" y="393.71" width="6.0" height="6.0" fill="#000"/>
<ellipse cx="88.97" cy="514.8" rx="3.13" ry="3.64" fill="#ee0000"/>
<ellipse cx="103.54" cy="514.8" rx="3.13" ry="3.64" fill="#ee0000"/>
<ellipse cx="132.68" cy="514.8" rx="3.13" ry="3.64" fill="#ee0000"/>
<ellipse cx="190.96" cy="514.8" rx="3.13" ry="3.64" fill="#ee0000"/>
<ellipse cx="307.52" cy="514.8" rx="3.13" ry="3.64" fill="#ee0000"/>
<text transform="translate(198.5,395) scale(1,1.1)" font-size="14" font-weight="bold" font-style="normal" text-anchor="start" fill="#000" >Pyruvate</text>
<text transform="translate(198.6,492.1) scale(1,1.1)" font-size="14" font-weight="bold" font-style="normal" text-anchor="start" fill="#000" >Lactate</text>
<text x="316.1" y="402.5" font-size="15" font-weight="bold" font-style="normal" text-anchor="start" fill="#000" >1</text>
<text x="315.9" y="519.6" font-size="15" font-weight="bold" font-style="normal" text-anchor="start" fill="#000" >2</text>
<text transform="translate(85,355.7) scale(1,1.04)" font-size="33" font-weight="bold" font-style="normal" text-anchor="start" fill="#000" >c</text>
<text x="70.6" y="641" font-size="19.3" font-weight="bold" font-style="normal" text-anchor="start" fill="#000" >Relative permeability,</text>
<text x="279.3" y="641" font-size="19.3" font-weight="bold" font-style="normal" text-anchor="start" fill="#000" >folds</text>
<text transform="translate(22.2,600) rotate(-90)" font-size="21.5" font-weight="bold" font-style="normal" text-anchor="start" fill="#000"><tspan font-style="italic">V</tspan></text>
<text transform="translate(29.2,587.5) rotate(-90)" font-size="12.5" font-weight="bold" font-style="italic" text-anchor="start" fill="#000">AMM</text>
<text transform="translate(22.2,557.5) rotate(-90)" font-size="20.5" font-weight="bold" font-style="normal" text-anchor="start" fill="#000">,</text>
<text transform="translate(22,535.3) rotate(-90)" font-size="20.5" font-weight="bold" font-style="normal" text-anchor="start" fill="#000">mmol/h x I</text>
<text transform="translate(29.2,434) rotate(-90)" font-size="13" font-weight="normal" font-style="normal" text-anchor="start" fill="#000">RBCs</text>
<line x1="452" y1="377.4" x2="452" y2="591.9" stroke="#b6b6b6" stroke-width="2.1"/>
<line x1="448.3" y1="591.9" x2="728.6" y2="591.9" stroke="#a0a0a0" stroke-width="2.0"/>
<line x1="474.9" y1="591.9" x2="474.9" y2="595.7" stroke="#707070" stroke-width="1.3"/>
<text transform="translate(474.9,609.9) scale(1,1.1)" font-size="14.4" font-weight="bold" font-style="normal" text-anchor="middle" fill="#000" >0</text>
<line x1="520.9" y1="591.9" x2="520.9" y2="595.7" stroke="#707070" stroke-width="1.3"/>
<text transform="translate(520.9,609.9) scale(1,1.1)" font-size="14.4" font-weight="bold" font-style="normal" text-anchor="middle" fill="#000" >1</text>
<line x1="566.9" y1="591.9" x2="566.9" y2="595.7" stroke="#707070" stroke-width="1.3"/>
<text transform="translate(566.9,609.9) scale(1,1.1)" font-size="14.4" font-weight="bold" font-style="normal" text-anchor="middle" fill="#000" >2</text>
<line x1="612.9" y1="591.9" x2="612.9" y2="595.7" stroke="#707070" stroke-width="1.3"/>
<text transform="translate(612.9,609.9) scale(1,1.1)" font-size="14.4" font-weight="bold" font-style="normal" text-anchor="middle" fill="#000" >3</text>
<line x1="658.9" y1="591.9" x2="658.9" y2="595.7" stroke="#707070" stroke-width="1.3"/>
<text transform="translate(658.9,609.9) scale(1,1.1)" font-size="14.4" font-weight="bold" font-style="normal" text-anchor="middle" fill="#000" >4</text>
<line x1="704.9" y1="591.9" x2="704.9" y2="595.7" stroke="#707070" stroke-width="1.3"/>
<text transform="translate(704.9,609.9) scale(1,1.1)" font-size="14.4" font-weight="bold" font-style="normal" text-anchor="middle" fill="#000" >5</text>
<line x1="497.9" y1="591.9" x2="497.9" y2="594.1" stroke="#707070" stroke-width="1.3"/>
<line x1="543.9" y1="591.9" x2="543.9" y2="594.1" stroke="#707070" stroke-width="1.3"/>
<line x1="589.9" y1="591.9" x2="589.9" y2="594.1" stroke="#707070" stroke-width="1.3"/>
<line x1="635.9" y1="591.9" x2="635.9" y2="594.1" stroke="#707070" stroke-width="1.3"/>
<line x1="681.9" y1="591.9" x2="681.9" y2="594.1" stroke="#707070" stroke-width="1.3"/>
<line x1="727.9" y1="591.9" x2="727.9" y2="594.1" stroke="#707070" stroke-width="1.3"/>
<line x1="448.3" y1="591.9" x2="452" y2="591.9" stroke="#707070" stroke-width="1.3"/>
<text transform="translate(446.2,596) scale(1,1.1)" font-size="14.4" font-weight="bold" font-style="normal" text-anchor="end" fill="#000" >0,0</text>
<line x1="448.3" y1="549" x2="452" y2="549" stroke="#707070" stroke-width="1.3"/>
<text transform="translate(446.2,553.1) scale(1,1.1)" font-size="14.4" font-weight="bold" font-style="normal" text-anchor="end" fill="#000" >0,2</text>
<line x1="448.3" y1="506.1" x2="452" y2="506.1" stroke="#707070" stroke-width="1.3"/>
<text transform="translate(446.2,510.2) scale(1,1.1)" font-size="14.4" font-weight="bold" font-style="normal" text-anchor="end" fill="#000" >0,4</text>
<line x1="448.3" y1="463.2" x2="452" y2="463.2" stroke="#707070" stroke-width="1.3"/>
<text transform="translate(446.2,467.3) scale(1,1.1)" font-size="14.4" font-weight="bold" font-style="normal" text-anchor="end" fill="#000" >0,6</text>
<line x1="448.3" y1="420.3" x2="452" y2="420.3" stroke="#707070" stroke-width="1.3"/>
<text transform="translate(446.2,424.4) scale(1,1.1)" font-size="14.4" font-weight="bold" font-style="normal" text-anchor="end" fill="#000" >0,8</text>
<line x1="448.3" y1="377.4" x2="452" y2="377.4" stroke="#707070" stroke-width="1.3"/>
<text transform="translate(446.2,381.5) scale(1,1.1)" font-size="14.4" font-weight="bold" font-style="normal" text-anchor="end" fill="#000" >1,0</text>
<line x1="450" y1="570.45" x2="452" y2="570.45" stroke="#707070" stroke-width="1.3"/>
<line x1="450" y1="527.55" x2="452" y2="527.55" stroke="#707070" stroke-width="1.3"/>
<line x1="450" y1="484.65" x2="452" y2="484.65" stroke="#707070" stroke-width="1.3"/>
<line x1="450" y1="441.75" x2="452" y2="441.75" stroke="#707070" stroke-width="1.3"/>
<line x1="450" y1="398.85" x2="452" y2="398.85" stroke="#707070" stroke-width="1.3"/>
<path d="M474.9,527.55 L475.13,524.5 L475.37,521.61 L475.6,518.87 L475.84,516.27 L476.07,513.8 L476.3,511.45 L476.54,509.2 L476.77,507.05 L477.01,505 L477.24,503.03 L477.47,501.14 L477.71,499.33 L477.94,497.58 L478.17,495.89 L478.41,494.27 L478.64,492.7 L478.88,491.18 L479.11,489.7 L479.34,488.28 L479.58,486.89 L479.81,485.55 L480.05,484.24 L480.28,482.96 L480.51,481.72 L480.75,480.51 L480.98,479.33 L481.22,478.18 L481.45,477.05 L481.68,475.95 L481.92,474.87 L482.15,473.82 L482.38,472.79 L482.62,471.78 L482.85,470.79 L483.09,469.82 L483.32,468.86 L483.55,467.93 L483.79,467.01 L484.02,466.11 L484.26,465.22 L484.49,464.36 L484.72,463.5 L484.96,462.66 L485.19,461.84 L485.43,461.03 L485.66,460.23 L485.89,459.44 L486.13,458.67 L486.36,457.91 L486.59,457.16 L486.83,456.43 L487.06,455.7 L487.3,454.99 L487.53,454.29 L487.76,453.6 L488,452.92 L488.23,452.25 L488.47,451.59 L488.7,450.94 L489.9,447.75 L491.1,444.8 L492.31,442.07 L493.51,439.53 L494.71,437.18 L495.91,435 L497.11,432.98 L498.32,431.1 L499.52,429.35 L500.72,427.74 L501.92,426.23 L503.12,424.84 L504.33,423.55 L505.53,422.34 L506.73,421.23 L507.93,420.19 L509.13,419.23 L510.34,418.34 L511.54,417.51 L512.74,416.75 L513.94,416.03 L515.14,415.37 L516.35,414.76 L517.55,414.18 L518.75,413.65 L519.95,413.16 L521.15,412.71 L522.36,412.28 L523.56,411.89 L524.76,411.52 L525.96,411.18 L527.16,410.87 L528.37,410.58 L529.57,410.3 L530.77,410.05 L531.97,409.82 L533.17,409.6 L534.38,409.4 L535.58,409.21 L536.78,409.04 L537.98,408.87 L539.18,408.72 L540.39,408.58 L541.59,408.45 L542.79,408.33 L543.99,408.22 L545.19,408.12 L546.4,408.02 L547.6,407.93 L548.8,407.85 L550,407.77 L551.2,407.7 L552.41,407.63 L553.61,407.57 L554.81,407.51 L556.01,407.46 L557.21,407.41 L558.42,407.36 L559.62,407.32 L560.82,407.28 L562.02,407.24 L563.22,407.2 L564.43,407.17 L565.63,407.14 L566.83,407.11 L568.03,407.08 L569.23,407.06 L570.44,407.04 L571.64,407.01 L572.84,406.99 L574.04,406.98 L575.24,406.96 L576.45,406.94 L577.65,406.93 L578.85,406.91 L580.05,406.9 L581.25,406.89 L582.46,406.87 L583.66,406.86 L584.86,406.85 L586.06,406.84 L587.26,406.83 L588.47,406.83 L589.67,406.82 L590.87,406.81 L592.07,406.8 L593.27,406.8 L594.48,406.79 L595.68,406.78 L596.88,406.78 L598.08,406.77 L599.28,406.77 L600.49,406.76 L601.69,406.76 L602.89,406.75 L604.09,406.75 L605.29,406.74 L606.5,406.74 L607.7,406.74 L608.9,406.73 L610.1,406.73 L611.31,406.72 L612.51,406.72 L613.71,406.72 L614.91,406.72 L616.11,406.71 L617.32,406.71 L618.52,406.71 L619.72,406.7 L620.92,406.7 L622.12,406.7 L623.33,406.7 L624.53,406.69 L625.73,406.69 L626.93,406.69 L628.13,406.69 L629.34,406.68 L630.54,406.68 L631.74,406.68 L632.94,406.68 L634.14,406.68 L635.35,406.67 L636.55,406.67 L637.75,406.67 L638.95,406.67 L640.15,406.67 L641.36,406.66 L642.56,406.66 L643.76,406.66 L644.96,406.66 L646.16,406.66 L647.37,406.65 L648.57,406.65 L649.77,406.65 L650.97,406.65 L652.17,406.65 L653.38,406.65 L654.58,406.64 L655.78,406.64 L656.98,406.64 L658.18,406.64 L659.39,406.64 L660.59,406.64 L661.79,406.63 L662.99,406.63 L664.19,406.63 L665.4,406.63 L666.6,406.63 L667.8,406.62 L669,406.62 L670.2,406.62 L671.41,406.62 L672.61,406.62 L673.81,406.62 L675.01,406.61 L676.21,406.61 L677.42,406.61 L678.62,406.61 L679.82,406.61 L681.02,406.61 L682.22,406.6 L683.43,406.6 L684.63,406.6 L685.83,406.6 L687.03,406.6 L688.23,406.6 L689.44,406.59 L690.64,406.59 L691.84,406.59 L693.04,406.59 L694.24,406.59 L695.45,406.59 L696.65,406.58 L697.85,406.58 L699.05,406.58 L700.25,406.58 L701.46,406.58 L702.66,406.58 L703.86,406.57 L705.06,406.57 L706.26,406.57 L707.47,406.57 L708.67,406.57 L709.87,406.57 L711.07,406.56 L712.27,406.56 L713.48,406.56 L714.68,406.56 L715.88,406.56 L717.08,406.55 L718.28,406.55 L719.49,406.55 L720.69,406.55 L721.89,406.55 L723.09,406.55 L724.29,406.54 L725.5,406.54 L726.7,406.54 L727.9,406.54" fill="none" stroke="#16169c" stroke-width="1.9" stroke-linejoin="round" stroke-linecap="round" />
<text x="481.3" y="355.6" font-size="33" font-weight="bold" font-style="normal" text-anchor="start" fill="#000" >d</text>
<text x="551" y="641" font-size="18.7" font-weight="bold" font-style="normal" text-anchor="start" fill="#000" >Time,</text>
<text x="616.3" y="641" font-size="18.7" font-weight="bold" font-style="normal" text-anchor="start" fill="#000" >h</text>
<text transform="translate(411.8,581.5) rotate(-90)" font-size="20.5" font-weight="bold" font-style="normal" text-anchor="start" fill="#000">ALA,</text>
<text transform="translate(413.6,516) rotate(-90)" font-size="20.5" font-weight="bold" font-style="normal" text-anchor="start" fill="#000">mmol/l</text>
<text transform="translate(419.5,451) rotate(-90)" font-size="13" font-weight="normal" font-style="normal" text-anchor="start" fill="#000">RBCs</text>
</svg>
</body></html>
